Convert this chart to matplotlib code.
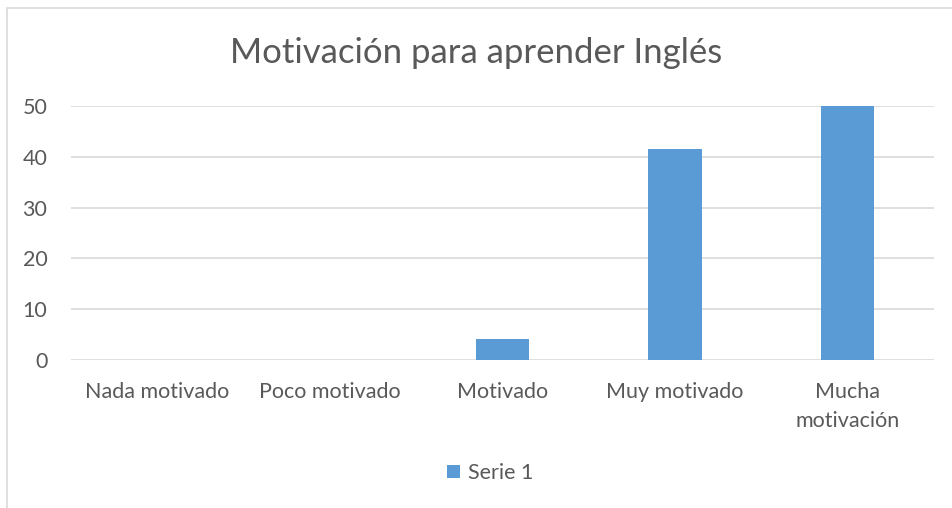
import matplotlib
matplotlib.use("Agg")
import matplotlib.pyplot as plt
from matplotlib.patches import Rectangle

categories = ["Nada motivado", "Poco motivado", "Motivado", "Muy motivado", "Mucha\nmotivación"]
serie_1 = [0, 0, 4.1, 41.6, 50.0]
y_ticks = [0, 10, 20, 30, 40, 50]

plt.rcParams['font.family'] = ['Lato', 'DejaVu Sans']
text_col = '#595959'
grid_col = '#d9d9d9'
bar_col = '#5b9bd5'

fig = plt.figure(figsize=(9.52, 5.08), dpi=100)
fig.patches.append(Rectangle((7 / 952, -0.1), 2, 1 - 8 / 508 + 0.1, transform=fig.transFigure,
                             fill=False, edgecolor=grid_col, linewidth=1.2))

ax = fig.add_axes([71 / 952, 1 - 360 / 508, (934 - 71) / 952, (360 - 106) / 508])
x = range(len(categories))
ax.bar(x, serie_1, width=0.31, color=bar_col, label='Serie 1', zorder=3)
ax.set_xlim(-0.5, len(categories) - 0.5)
ax.set_ylim(0, 50)
ax.set_yticks(y_ticks)
ax.set_xticks(list(x))
ax.set_xticklabels(categories, fontsize=15.5, color=text_col, linespacing=1.55, va='top')
ax.tick_params(axis='y', labelsize=15.5, labelcolor=text_col, length=0, pad=17)
ax.tick_params(axis='x', length=0, pad=16)
ax.grid(axis='y', color=grid_col, linewidth=1.2, zorder=0)
for s in ax.spines.values():
    s.set_visible(False)

fig.text(0.5, 1 - 53 / 508, 'Motivación para aprender Inglés', ha='center', va='center',
         fontsize=25, color=text_col)
fig.legend(loc='center', bbox_to_anchor=(490 / 952, 1 - 473 / 508), frameon=False,
           fontsize=15.5, labelcolor=text_col, handlelength=0.6, handleheight=0.6,
           handletextpad=0.35)

fig.savefig('out.png', dpi=100)
